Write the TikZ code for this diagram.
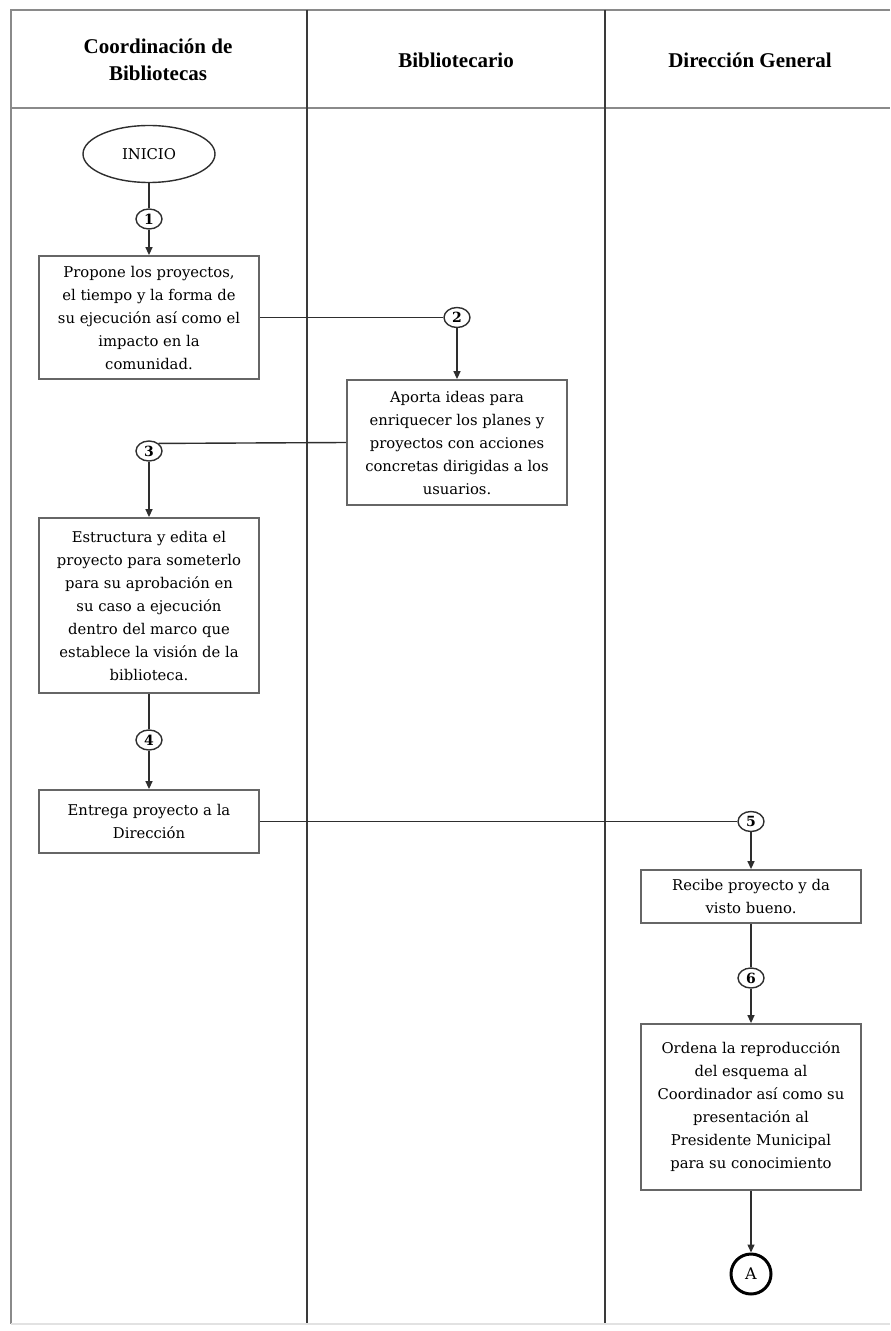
\documentclass[tikz,border=0pt]{standalone}
\usepackage{fontspec}
\setmainfont{DejaVu Serif}
\newfontfamily\headfont{Liberation Serif}
\usepackage{xcolor}
\usepackage{tikz}
\usetikzlibrary{arrows.meta,positioning,calc,shapes.geometric}
\definecolor{frameline}{HTML}{8A8A8A}
\definecolor{laneline}{HTML}{3A3A3A}
\definecolor{ink}{HTML}{2E2E2E}
\definecolor{boxline}{HTML}{666666}
\definecolor{faint}{HTML}{E2E2E2}

\begin{document}
\begin{tikzpicture}[
  x=0.5pt, y=-0.5pt,
  font=\fontsize{7.4}{11.5}\selectfont,
  head/.style={font=\headfont\bfseries\fontsize{10.5}{13.5}\selectfont, align=center},
  box/.style={draw=boxline, line width=0.9pt, fill=white, align=center, minimum width=110pt, inner sep=2pt},
  startnode/.style={draw=ink, ellipse, line width=0.7pt, minimum width=66pt, minimum height=28.5pt, inner sep=0pt},
  num/.style={draw=ink, ellipse, line width=0.7pt, minimum width=13pt, minimum height=10pt, inner sep=0pt, font=\fontsize{7}{8}\selectfont\bfseries},
  connector/.style={draw=black, circle, line width=1.5pt, minimum size=20pt, inner sep=0pt, font=\fontsize{8}{9}\selectfont},
  arrow/.style={-{Triangle[length=4pt,width=3.5pt]}, line width=0.7pt, draw=ink},
  link/.style={line width=0.7pt, draw=ink},
  frame/.style={line width=1.1pt, draw=frameline},
  lane/.style={line width=0.8pt, draw=laneline}
]
  \useasboundingbox (0,0) rectangle (890,1331);

  \draw[frame] (890,10) -- (11,10) -- (11,1324);
  \draw[frame] (11,108) -- (890,108);
  \draw[lane] (307,10) -- (307,1324);
  \draw[lane] (605,10) -- (605,1324);
  \draw[draw=faint, line width=0.6pt] (11,1324) -- (890,1324);

  \node[head] (laneA) at (158,60) {Coordinación de\\Bibliotecas};
  \node[head] (laneB) at (456,60) {Bibliotecario};
  \node[head] (laneC) at (750,60) {Dirección General};

  \node[startnode] (inicio) at (149,154) {INICIO};
  \node[num] (n1) at (149,219) {1};
  \node[box, minimum height=61.5pt] (propone) at (149,317.5) {Propone los proyectos,\\el tiempo y la forma de\\su ejecución así como el\\impacto en la\\comunidad.};
  \node[num] (n2) at (457,317.5) {2};
  \node[box, minimum height=62.5pt] (aporta) at (457,442.5) {Aporta ideas para\\enriquecer los planes y\\proyectos con acciones\\concretas dirigidas a los\\usuarios.};
  \node[num] (n3) at (149,451) {3};
  \node[box, minimum height=87.5pt] (estructura) at (149,605.5) {Estructura y edita el\\proyecto para someterlo\\para su aprobación en\\su caso a ejecución\\dentro del marco que\\establece la visión de la\\biblioteca.};
  \node[num] (n4) at (149,740) {4};
  \node[box, minimum height=31.5pt] (entrega) at (149,821.5) {Entrega proyecto a la\\Dirección};
  \node[num] (n5) at (751,821.5) {5};
  \node[box, minimum height=26.5pt] (recibe) at (751,896.5) {Recibe proyecto y da\\visto bueno.};
  \node[num] (n6) at (751,978) {6};
  \node[box, minimum height=83pt] (ordena) at (751,1107) {Ordena la reproducción\\del esquema al\\Coordinador así como su\\presentación al\\Presidente Municipal\\para su conocimiento};
  \node[connector] (endA) at (751,1274) {A};

  \draw[link] (inicio) -- (n1);
  \draw[arrow] (n1) -- (propone);
  \draw[link] (propone.east) -- (n2);
  \draw[arrow] (n2) -- (aporta);
  \draw[link] (aporta.west) -- (n3.north east);
  \draw[arrow] (n3) -- (estructura);
  \draw[link] (estructura) -- (n4);
  \draw[arrow] (n4) -- (entrega);
  \draw[link] (entrega.east) -- (n5);
  \draw[arrow] (n5) -- (recibe);
  \draw[link] (recibe) -- (n6);
  \draw[arrow] (n6) -- (ordena);
  \draw[arrow] (ordena) -- (endA);
\end{tikzpicture}
\end{document}
